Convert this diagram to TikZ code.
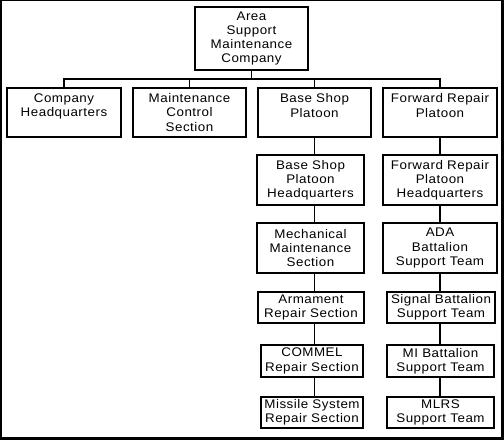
\documentclass[tikz,border=0pt]{standalone}
\usepackage{fontspec}
\setmainfont{Liberation Sans}[FakeStretch=1.07, LetterSpace=4]
\tikzset{
    normal/.style={draw, line width=1.8bp},
    unit/.style={style=normal, align=center, inner sep=0pt, font=\fontsize{12.5bp}{14.2bp}\selectfont},
    tall/.style={style=unit, minimum height=50bp}, % three-line boxes
    short/.style={style=unit, minimum height=31bp}, % two-line boxes
    te/.style={line width=1.5bp} % edges in the chart
}
\begin{document}
\begin{tikzpicture}[x=1bp, y=-1bp]
  \useasboundingbox (0,0) rectangle (504,440);
  \fill[black] (0,0) rectangle (504,440);
  \fill[white] (1.5,1) rectangle (500.7,436.7);

  \node[unit, minimum width=113bp, minimum height=63bp] (asmc) at (251.5,38.5) {Area\\Support\\Maintenance\\Company};

  \node[tall, minimum width=114bp, minimum height=49bp] (hq) at (64,112.5) {Company\\Headquarters\\\mbox{}};
  \node[tall, minimum width=113bp, minimum height=49bp] (mcs) at (189.5,112.5) {Maintenance\\Control\\Section};
  \node[tall, minimum width=113bp, minimum height=49bp] (bsp) at (314.5,112.5) {Base Shop\\Platoon\\\mbox{}};
  \node[tall, minimum width=114bp, minimum height=49bp] (frp) at (440,112.5) {Forward Repair\\Platoon\\\mbox{}};

  % base shop column
  \node[tall, minimum width=107bp] (bshq) at (310.5,180) {Base Shop\\Platoon\\Headquarters};
  \node[tall, minimum width=107bp] (mms) at (310.5,248) {Mechanical\\Maintenance\\Section};
  \node[short, minimum width=106bp] (ars) at (311,307.5) {Armament\\Repair Section};
  \node[short, minimum width=102bp, minimum height=32bp] (crs) at (312,361) {COMMEL\\Repair Section};
  \node[short, minimum width=102bp] (msrs) at (312,412.5) {Missile System\\Repair Section};

  % forward repair column
  \node[tall, minimum width=114bp] (frhq) at (440,180) {Forward Repair\\Platoon\\Headquarters};
  \node[tall, minimum width=114bp] (ada) at (440,248) {ADA\\Battalion\\Support Team};
  \node[short, minimum width=108bp] (sbst) at (441,307.5) {Signal Battalion\\Support Team};
  \node[short, minimum width=107bp, minimum height=32bp] (mist) at (440.5,361) {MI Battalion\\Support Team};
  \node[short, minimum width=107bp] (mlrs) at (440.5,412.5) {MLRS\\Support Team};

  \coordinate (bus) at (251.5,79);
  \draw[te] (asmc.south) -- (bus);
  \draw[te] (hq.north) |- (bus) -| (frp.north);
  \draw[te] (mcs.north) -- (mcs.north |- bus);
  \draw[te] (bsp.north) -- (bsp.north |- bus);

  \draw[te] (bsp.south) -- (bsp.south |- bshq.north);
  \draw[te] (bshq.south -| bsp.south) -- (bsp.south |- mms.north);
  \draw[te] (mms.south -| bsp.south) -- (bsp.south |- ars.north);
  \draw[te] (ars.south -| bsp.south) -- (bsp.south |- crs.north);
  \draw[te] (crs.south -| bsp.south) -- (bsp.south |- msrs.north);

  \draw[te] (frp.south) -- (frhq.north);
  \draw[te] (frhq.south) -- (ada.north);
  \draw[te] (ada.south) -- (ada.south |- sbst.north);
  \draw[te] (sbst.south -| ada.south) -- (ada.south |- mist.north);
  \draw[te] (mist.south -| ada.south) -- (ada.south |- mlrs.north);
\end{tikzpicture}
\end{document}
